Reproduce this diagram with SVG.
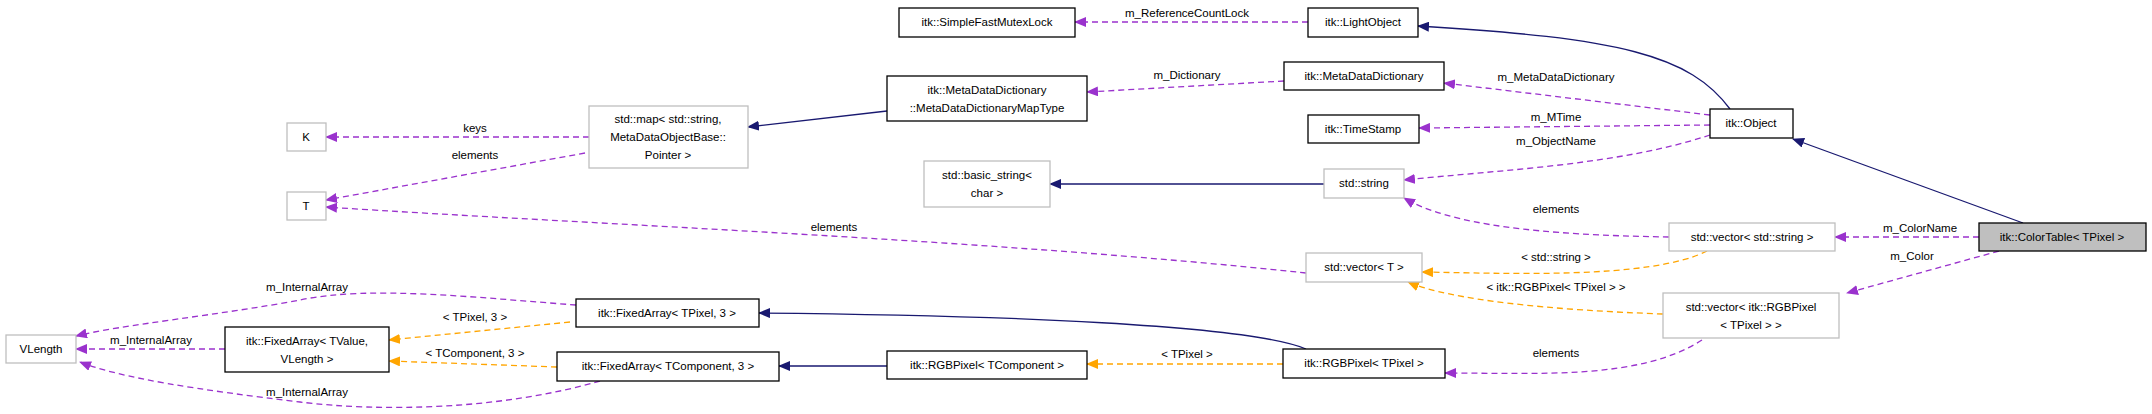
<svg xmlns="http://www.w3.org/2000/svg" width="2152" height="414" viewBox="0 0 2152 414">
<style>
text{font-family:"Liberation Sans",Arial,sans-serif;font-size:11.5px;fill:#000;text-anchor:middle}
.n rect{fill:#fff;stroke:#000;stroke-width:1.3}
.g rect{fill:#fff;stroke:#bfbfbf;stroke-width:1.3}
.s rect{fill:#bfbfbf;stroke:#000;stroke-width:1.3}
.e path{fill:none;stroke-width:1.3}
.b{stroke:#191970}
.p{stroke:#9a32cd;stroke-dasharray:6,4}
.o{stroke:#ffa500;stroke-dasharray:6,4}
</style>
<defs>
<marker id="mb" markerWidth="12" markerHeight="10" refX="11" refY="5" orient="auto" markerUnits="userSpaceOnUse"><path d="M0,0L12,5L0,10z" fill="#191970"/></marker>
<marker id="mp" markerWidth="12" markerHeight="10" refX="11" refY="5" orient="auto" markerUnits="userSpaceOnUse"><path d="M0,0L12,5L0,10z" fill="#9a32cd"/></marker>
<marker id="mo" markerWidth="12" markerHeight="10" refX="11" refY="5" orient="auto" markerUnits="userSpaceOnUse"><path d="M0,0L12,5L0,10z" fill="#ffa500"/></marker>
</defs>
<rect width="2152" height="414" fill="#fff"/>
<g id="edges" class="e">
<path class="p" d="M1308,22L1075,22" marker-end="url(#mp)"/>
<path class="b" d="M1730,109C1690,55 1620,38 1418,26" marker-end="url(#mb)"/>
<path class="p" d="M1284,81L1087,92" marker-end="url(#mp)"/>
<path class="p" d="M1710,115L1444,83" marker-end="url(#mp)"/>
<path class="p" d="M1710,125L1419,128" marker-end="url(#mp)"/>
<path class="p" d="M1710,135C1620,165 1500,170 1404,180" marker-end="url(#mp)"/>
<path class="b" d="M887,111L748,127" marker-end="url(#mb)"/>
<path class="p" d="M589,137L326,137" marker-end="url(#mp)"/>
<path class="p" d="M585,153L326,200" marker-end="url(#mp)"/>
<path class="b" d="M1324,184L1050,184" marker-end="url(#mb)"/>
<path class="p" d="M1306,273C1000,240 600,225 326,207" marker-end="url(#mp)"/>
<path class="p" d="M1669,237C1540,235 1450,225 1404,198" marker-end="url(#mp)"/>
<path class="p" d="M1979,237L1835,237" marker-end="url(#mp)"/>
<path class="b" d="M2023,223L1793,139" marker-end="url(#mb)"/>
<path class="p" d="M1999,251L1847,293" marker-end="url(#mp)"/>
<path class="o" d="M1707,251C1650,280 1500,273 1422,272" marker-end="url(#mo)"/>
<path class="o" d="M1663,314C1550,310 1450,300 1408,282" marker-end="url(#mo)"/>
<path class="p" d="M1702,340C1640,380 1540,373 1445,373" marker-end="url(#mp)"/>
<path class="b" d="M1306,349C1250,325 1000,315 759,313" marker-end="url(#mb)"/>
<path class="o" d="M1283,364L1087,364" marker-end="url(#mo)"/>
<path class="b" d="M887,366L779,366" marker-end="url(#mb)"/>
<path class="o" d="M570,322L389,340" marker-end="url(#mo)"/>
<path class="o" d="M557,367L389,361" marker-end="url(#mo)"/>
<path class="p" d="M576,305C480,298 370,285 300,300C220,315 120,325 76,336" marker-end="url(#mp)"/>
<path class="p" d="M225,349L76,349" marker-end="url(#mp)"/>
<path class="p" d="M600,381C500,410 380,412 300,402C200,390 120,378 80,362" marker-end="url(#mp)"/>
</g>
<g id="edge-labels">
<text x="1187" y="17">m_ReferenceCountLock</text>
<text x="1187" y="79">m_Dictionary</text>
<text x="1556" y="81">m_MetaDataDictionary</text>
<text x="1556" y="121">m_MTime</text>
<text x="1556" y="145">m_ObjectName</text>
<text x="475" y="132">keys</text>
<text x="475" y="159">elements</text>
<text x="834" y="231">elements</text>
<text x="1556" y="213">elements</text>
<text x="1920" y="232">m_ColorName</text>
<text x="1912" y="260">m_Color</text>
<text x="1556" y="261">&lt; std::string &gt;</text>
<text x="1556" y="291">&lt; itk::RGBPixel&lt; TPixel &gt; &gt;</text>
<text x="1556" y="357">elements</text>
<text x="1187" y="358">&lt; TPixel &gt;</text>
<text x="475" y="321">&lt; TPixel, 3 &gt;</text>
<text x="475" y="357">&lt; TComponent, 3 &gt;</text>
<text x="307" y="291">m_InternalArray</text>
<text x="151" y="344">m_InternalArray</text>
<text x="307" y="396">m_InternalArray</text>
</g>
<g id="n1" class="n"><rect x="899" y="8" width="176" height="29"/><text x="987" y="26">itk::SimpleFastMutexLock</text></g>
<g id="n2" class="n"><rect x="1308" y="8" width="110" height="29"/><text x="1363" y="26">itk::LightObject</text></g>
<g id="n3" class="n"><rect x="887" y="76" width="200" height="45"/><text x="987" y="94">itk::MetaDataDictionary</text><text x="987" y="112">::MetaDataDictionaryMapType</text></g>
<g id="n4" class="n"><rect x="1284" y="62" width="160" height="28"/><text x="1364" y="80">itk::MetaDataDictionary</text></g>
<g id="n5" class="n"><rect x="1308" y="115" width="111" height="28"/><text x="1363" y="133">itk::TimeStamp</text></g>
<g id="n6" class="n"><rect x="1710" y="109" width="83" height="29"/><text x="1751" y="127">itk::Object</text></g>
<g id="n7" class="g"><rect x="589" y="106" width="159" height="62"/><text x="668" y="123">std::map&lt; std::string,</text><text x="668" y="141">MetaDataObjectBase::</text><text x="668" y="159">Pointer &gt;</text></g>
<g id="n8" class="g"><rect x="287" y="123" width="39" height="28"/><text x="306" y="141">K</text></g>
<g id="n9" class="g"><rect x="287" y="192" width="39" height="28"/><text x="306" y="210">T</text></g>
<g id="n10" class="g"><rect x="924" y="161" width="126" height="46"/><text x="987" y="179">std::basic_string&lt;</text><text x="987" y="197">char &gt;</text></g>
<g id="n11" class="g"><rect x="1324" y="169" width="80" height="29"/><text x="1364" y="187">std::string</text></g>
<g id="n12" class="g"><rect x="1669" y="223" width="166" height="28"/><text x="1752" y="241">std::vector&lt; std::string &gt;</text></g>
<g id="n13" class="s"><rect x="1979" y="223" width="167" height="28"/><text x="2062" y="241">itk::ColorTable&lt; TPixel &gt;</text></g>
<g id="n14" class="g"><rect x="1306" y="253" width="116" height="29"/><text x="1364" y="271">std::vector&lt; T &gt;</text></g>
<g id="n15" class="g"><rect x="1663" y="293" width="176" height="45"/><text x="1751" y="311">std::vector&lt; itk::RGBPixel</text><text x="1751" y="329">&lt; TPixel &gt; &gt;</text></g>
<g id="n16" class="n"><rect x="1283" y="349" width="162" height="29"/><text x="1364" y="367">itk::RGBPixel&lt; TPixel &gt;</text></g>
<g id="n17" class="n"><rect x="887" y="351" width="200" height="28"/><text x="987" y="369">itk::RGBPixel&lt; TComponent &gt;</text></g>
<g id="n18" class="n"><rect x="576" y="299" width="183" height="28"/><text x="667" y="317">itk::FixedArray&lt; TPixel, 3 &gt;</text></g>
<g id="n19" class="n"><rect x="557" y="352" width="222" height="29"/><text x="668" y="370">itk::FixedArray&lt; TComponent, 3 &gt;</text></g>
<g id="n20" class="n"><rect x="225" y="327" width="164" height="45"/><text x="307" y="345">itk::FixedArray&lt; TValue,</text><text x="307" y="363">VLength &gt;</text></g>
<g id="n21" class="g"><rect x="6" y="335" width="70" height="28"/><text x="41" y="353">VLength</text></g>
</svg>
